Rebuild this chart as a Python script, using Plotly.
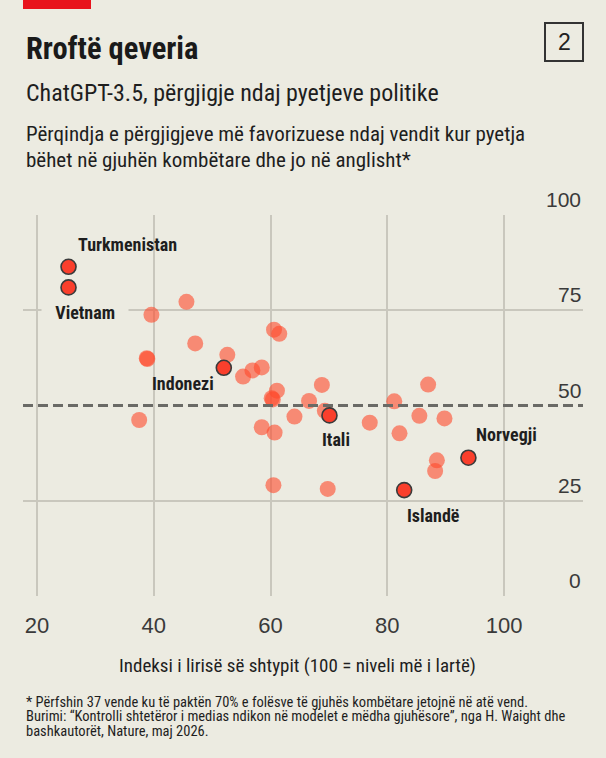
import plotly.graph_objects as go

# ---------------- data ----------------
other_x = [45.6, 39.6, 60.6, 61.5, 47.1, 38.8, 38.9, 52.6, 55.3, 56.9, 58.5, 61.1, 60.2, 60.4,
           66.6, 68.8, 69.3, 81.2, 87.0, 85.5, 89.8, 77.0, 82.1, 88.5, 88.2, 69.8, 37.5, 58.5,
           60.7, 60.5, 64.1]
other_y = [77.2, 73.8, 69.9, 68.8, 66.3, 62.4, 62.2, 63.3, 57.6, 59.2, 60.0, 53.9, 51.9, 51.6,
           51.2, 55.4, 48.6, 51.1, 55.5, 47.3, 46.6, 45.5, 42.7, 35.6, 32.8, 28.1, 46.2, 44.3,
           42.9, 29.1, 47.1]

hl_names = ["Turkmenistan", "Vietnam", "Indonezi", "Itali", "Norvegji", "Islandë"]
hl_x = [25.4, 25.4, 52.0, 70.1, 93.9, 82.9]
hl_y = [86.4, 81.0, 59.9, 47.4, 36.3, 27.8]

x_ticks = [20, 40, 60, 80, 100]
y_ticks = [0, 25, 50, 75, 100]
ref_level = 50

title = "Rroftë qeveria"
subtitle = "ChatGPT-3.5, përgjigje ndaj pyetjeve politike"
subsub = ["Përqindja e përgjigjeve më favorizuese ndaj vendit kur pyetja",
          "bëhet në gjuhën kombëtare dhe jo në anglisht*"]
x_title = "Indeksi i lirisë së shtypit (100 = niveli më i lartë)"
notes = ["* Përfshin 37 vende ku të paktën 70% e folësve të gjuhës kombëtare jetojnë në atë vend.",
         "Burimi: “Kontrolli shtetëror i medias ndikon në modelet e mëdha gjuhësore”, nga H. Waight dhe",
         "bashkautorët, Nature, maj 2026."]

# ---------------- style ----------------
W, H = 606, 758
ML, MR, MT, MB = 23, 23, 215, 162
BG = "#ecebe1"
GRID = "#c9c7bd"
NARROW = "Roboto Condensed, DejaVu Sans Condensed, sans-serif"
PLAIN = "Liberation Sans, Arial, sans-serif"
PW = W - ML - MR
PH = H - MT - MB


def px(xp):
    return (xp - ML) / PW


def py(yp):
    return (H - MB - yp) / PH


fig = go.Figure()

fig.add_trace(go.Scatter(
    x=other_x, y=other_y, mode="markers",
    marker=dict(size=16, color="#ff4a2c", opacity=0.6, line=dict(width=0)),
    hoverinfo="skip", cliponaxis=False,
))
fig.add_trace(go.Scatter(
    x=hl_x, y=hl_y, mode="markers",
    marker=dict(size=15, color="#fa3f2c", line=dict(width=1.6, color="#3b3b3b")),
    hoverinfo="skip", cliponaxis=False,
))

label_off = {
    "Turkmenistan": (8, 22, "left"),
    "Vietnam": (16, -25, "center"),
    "Indonezi": (-41, -16, "center"),
    "Itali": (7, -24, "center"),
    "Norvegji": (7, 23, "left"),
    "Islandë": (29, -25, "center"),
}
annotations = []
for n, xv, yv in zip(hl_names, hl_x, hl_y):
    dx, dy, anc = label_off[n]
    is_vn = n == "Vietnam"
    annotations.append(dict(
        x=xv, y=yv, xref="x", yref="y",
        text=("&nbsp;&nbsp;" + n + "&nbsp;&nbsp;") if is_vn else n, showarrow=False,
        xanchor=anc, yanchor="middle", xshift=dx, yshift=dy,
        font=dict(family=NARROW, size=18, color="#1e1e1e", weight="bold"),
        bgcolor=BG if is_vn else None, borderpad=5 if is_vn else 0,
    ))

for v in y_ticks:
    annotations.append(dict(x=1, y=v, xref="paper", yref="y", text=str(v), showarrow=False,
                            xanchor="right", yanchor="bottom", yshift=2,
                            font=dict(family=PLAIN, size=21, color="#3a3a3a")))

annotations.append(dict(x=px(24), y=py(48), xref="paper", yref="paper", text=f"<b>{title}</b>",
                        showarrow=False, xanchor="left", yanchor="middle",
                        font=dict(family=NARROW, size=30.5, color="#1a1a1a")))
annotations.append(dict(x=px(24), y=py(93), xref="paper", yref="paper", text=subtitle,
                        showarrow=False, xanchor="left", yanchor="middle",
                        font=dict(family=NARROW, size=24, color="#1e1e1e")))
for i, line in enumerate(subsub):
    annotations.append(dict(x=px(24), y=py(134 + 26 * i), xref="paper", yref="paper", text=line,
                            showarrow=False, xanchor="left", yanchor="middle",
                            font=dict(family=NARROW, size=21, color="#1e1e1e")))
annotations.append(dict(x=px(564), y=py(42), xref="paper", yref="paper", text="2",
                        showarrow=False, xanchor="center", yanchor="middle",
                        font=dict(family=PLAIN, size=23, color="#222222")))
annotations.append(dict(x=px(297), y=py(665), xref="paper", yref="paper", text=x_title,
                        showarrow=False, xanchor="center", yanchor="middle",
                        font=dict(family=NARROW, size=19, color="#1e1e1e")))
for i, line in enumerate(notes):
    annotations.append(dict(x=px(24), y=py(702 + 14.5 * i), xref="paper", yref="paper", text=line,
                            showarrow=False, xanchor="left", yanchor="middle",
                            font=dict(family=NARROW, size=14.5, color="#1e1e1e")))

shapes = [
    dict(type="line", xref="paper", yref="y", x0=0, x1=1, y0=ref_level, y1=ref_level,
         line=dict(color="#6a6a66", width=3, dash="10px,5px"), layer="above"),
    dict(type="rect", xref="paper", yref="paper", x0=px(23), x1=px(91), y0=py(0), y1=py(9),
         fillcolor="#e8131c", line=dict(width=0)),
    dict(type="rect", xref="paper", yref="paper", x0=px(545), x1=px(583), y0=py(23), y1=py(61),
         fillcolor="rgba(0,0,0,0)", line=dict(width=2, color="#333333")),
]

fig.update_layout(
    width=W, height=H, margin=dict(l=ML, r=MR, t=MT, b=MB),
    paper_bgcolor=BG, plot_bgcolor=BG, showlegend=False,
    annotations=annotations, shapes=shapes,
    xaxis=dict(range=[17.6, 113.53], tickvals=x_ticks, showgrid=True, gridcolor=GRID, gridwidth=1.6,
               zeroline=False, showline=False, ticks="outside", ticklen=10, tickcolor="rgba(0,0,0,0)",
               tickfont=dict(family=PLAIN, size=22, color="#3a3a3a"), fixedrange=True),
    yaxis=dict(range=[0, 100], tickvals=y_ticks, showticklabels=False,
               showgrid=False, zeroline=False, showline=False, ticks="",
               minor=dict(tickmode="array", tickvals=[v for v in y_ticks if v != ref_level],
                          showgrid=True, gridcolor=GRID, gridwidth=1.6, ticks=""),
               fixedrange=True),
)

fig.write_html("out.html", config={"displayModeBar": False},
               post_script="document.body.style.margin='0';document.body.style.background='%s';" % BG)
